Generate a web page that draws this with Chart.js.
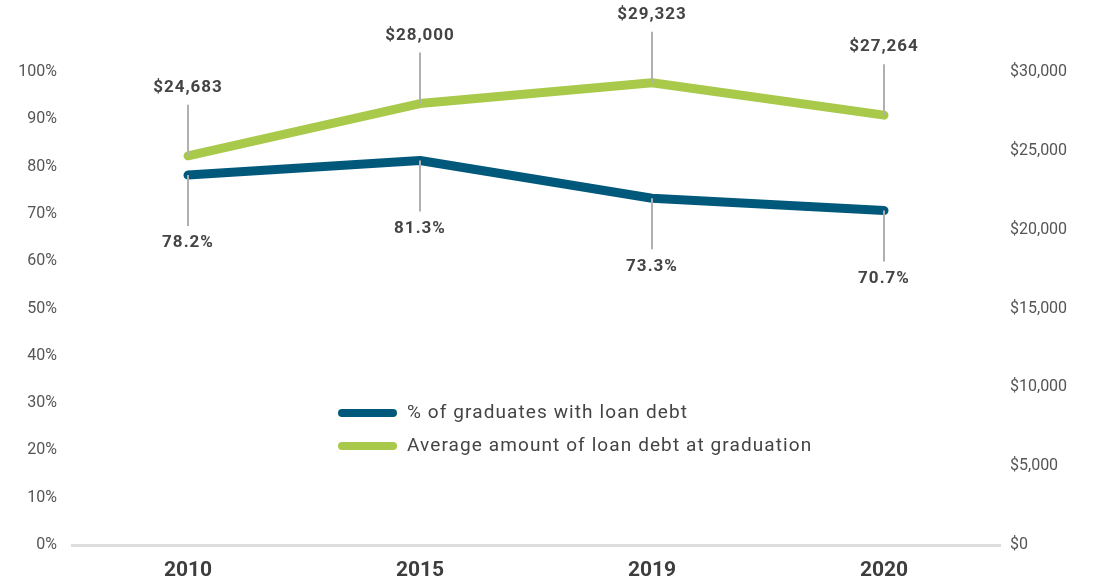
<!DOCTYPE html>
<html>
<head>
<meta charset="utf-8">
<script src="https://cdn.jsdelivr.net/npm/chart.js@4/dist/chart.umd.min.js"></script>
<style>
  html, body { margin: 0; padding: 0; background: #fff; }
  #wrap { width: 1097px; height: 583px; position: relative; }
</style>
</head>
<body>
<div id="wrap"><canvas id="grafico"></canvas></div>
<script>
// dados do gráfico
const anos = ['2010', '2015', '2019', '2020'];
const pctComDivida = [78.2, 81.3, 73.3, 70.7];
const dividaMedia = [24683, 28000, 29323, 27264];
const rotulosSeries = ['% of graduates with loan debt', 'Average amount of loan debt at graduation'];

const corAzul = '#00587a';
const corVerde = '#a8c94a';
const corTexto = '#444';

function formatarDolar(v) {
  return '$' + Number(v).toLocaleString('en-US');
}

// rótulos com linha de chamada (acima para o verde, abaixo para o azul)
const rotulosPlugin = {
  id: 'rotulos',
  afterDatasetsDraw(chart) {
    const ctx = chart.ctx;
    ctx.save();
    chart.data.datasets.forEach((ds, i) => {
      const meta = chart.getDatasetMeta(i);
      const acima = ds.yAxisID === 'y1';
      meta.data.forEach((pt, j) => {
        const dir = acima ? -1 : 1;
        ctx.strokeStyle = '#b0b0b0';
        ctx.lineWidth = 2;
        ctx.beginPath();
        ctx.moveTo(pt.x, pt.y);
        ctx.lineTo(pt.x, pt.y + dir * 51);
        ctx.stroke();
        const texto = acima ? formatarDolar(ds.data[j]) : ds.data[j].toFixed(1) + '%';
        ctx.font = 'bold 17px Roboto';
        ctx.letterSpacing = '1px';
        ctx.fillStyle = corTexto;
        ctx.textAlign = 'center';
        ctx.textBaseline = 'middle';
        ctx.fillText(texto, pt.x, pt.y + dir * 68);
      });
    });
    ctx.restore();
  }
};

// legenda desenhada dentro da área do gráfico
const legendaPlugin = {
  id: 'legendaInterna',
  afterDraw(chart) {
    const ctx = chart.ctx;
    ctx.save();
    chart.data.datasets.forEach((ds, i) => {
      const y = 413 + i * 33;
      ctx.strokeStyle = ds.borderColor;
      ctx.lineWidth = 8;
      ctx.lineCap = 'round';
      ctx.beginPath();
      ctx.moveTo(342, y);
      ctx.lineTo(393, y);
      ctx.stroke();
      ctx.font = '19px Roboto';
      ctx.letterSpacing = '1.1px';
      ctx.fillStyle = corTexto;
      ctx.textAlign = 'left';
      ctx.textBaseline = 'middle';
      ctx.fillText(ds.label, 407, y);
    });
    ctx.restore();
  }
};

new Chart(document.getElementById('grafico'), {
  type: 'line',
  data: {
    labels: anos,
    datasets: [{
      label: rotulosSeries[0],
      data: pctComDivida,
      yAxisID: 'y',
      borderColor: corAzul,
      backgroundColor: corAzul,
      borderWidth: 9,
      borderCapStyle: 'round',
      borderJoinStyle: 'round',
      pointRadius: 0,
      tension: 0
    }, {
      label: rotulosSeries[1],
      data: dividaMedia,
      yAxisID: 'y1',
      borderColor: corVerde,
      backgroundColor: corVerde,
      borderWidth: 9,
      borderCapStyle: 'round',
      borderJoinStyle: 'round',
      pointRadius: 0,
      tension: 0
    }]
  },
  options: {
    responsive: true,
    maintainAspectRatio: false,
    animation: false,
    layout: { padding: { top: 72, bottom: 0, left: 0, right: 0 } },
    plugins: {
      legend: { display: false },
      tooltip: { enabled: false }
    },
    scales: {
      x: {
        offset: true,
        grid: { display: false },
        border: { display: true, color: '#dddddd', width: 3 },
        ticks: {
          color: '#3d3d3d',
          font: { family: 'Roboto', size: 21, weight: 'bold' },
          padding: 5
        },
        afterFit(s) { s.height = 38; }
      },
      y: {
        position: 'left',
        min: 0,
        max: 100,
        grid: { display: false },
        border: { display: false },
        ticks: {
          stepSize: 10,
          color: '#555',
          font: { family: 'Roboto', size: 16 },
          padding: 7,
          callback: v => v + '%'
        },
        afterFit(s) { s.width = 72; }
      },
      y1: {
        position: 'right',
        min: 0,
        max: 30000,
        grid: { display: false },
        border: { display: false },
        ticks: {
          stepSize: 5000,
          color: '#555',
          font: { family: 'Roboto', size: 16 },
          padding: 2,
          callback: v => formatarDolar(v)
        },
        afterFit(s) { s.width = 97; }
      }
    }
  },
  plugins: [rotulosPlugin, legendaPlugin]
});
</script>
</body>
</html>
